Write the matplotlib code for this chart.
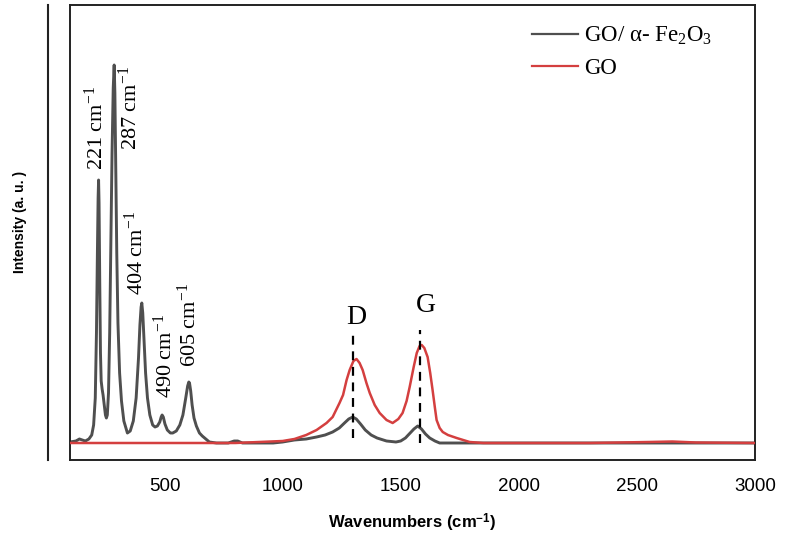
import matplotlib
matplotlib.use("Agg")
import matplotlib.pyplot as plt
from matplotlib.lines import Line2D

plt.rcParams['mathtext.fontset'] = 'custom'
plt.rcParams['mathtext.rm'] = 'Liberation Serif'
plt.rcParams['mathtext.it'] = 'Liberation Serif:italic'
plt.rcParams['mathtext.bf'] = 'Liberation Sans:bold'

# GO/alpha-Fe2O3 spectrum
gray_wn = [100, 125, 140, 152, 165, 180, 192, 200, 207, 212, 216, 219, 221,
           223, 226, 229, 232, 236, 240, 245, 250, 254, 258, 263, 268, 273,
           278, 283, 287, 290, 294, 298, 303, 310, 318, 328, 343, 355, 368,
           380, 390, 396, 401, 404, 408, 413, 420, 428, 438, 450, 460, 470,
           480, 486, 490, 495, 502, 512, 525, 535, 550, 565, 578, 590, 598,
           603, 606, 611, 617, 625, 635, 648, 660, 675, 690, 720, 770, 795,
           810, 830, 900, 960, 1000, 1050, 1100, 1144, 1180, 1212, 1240, 1262,
           1280, 1297, 1312, 1330, 1350, 1375, 1400, 1440, 1480, 1500, 1520,
           1540, 1556, 1572, 1588, 1605, 1623, 1645, 1665, 1750, 2000, 3000]
gray_int = [1, 2, 4, 3, 2, 4, 8, 18, 45, 110, 190, 245, 263,
            240, 160, 90, 62, 54, 48, 38, 28, 25, 28, 50, 110, 200,
            290, 355, 378, 350, 270, 190, 120, 70, 42, 22, 10, 12, 22,
            45, 85, 118, 136, 140, 130, 105, 70, 45, 28, 18, 16, 17,
            21, 26, 28, 26, 19, 13, 10, 10, 12, 18, 28, 45, 57,
            61, 60, 52, 38, 25, 17, 10, 7, 4, 1, 0, 0, 2,
            2, 0, 0, 0, 1, 3, 4, 6, 8, 11, 15, 20,
            24, 26, 24, 19, 13, 8, 5, 2, 1, 2, 5,
            10, 14, 17, 14, 9, 5, 2, 0, 0, 0, 0]

# GO spectrum
red_wn = [100, 500, 800, 900, 1000, 1050, 1100, 1144, 1186, 1212, 1241, 1256,
          1271, 1284, 1300, 1313, 1326, 1339, 1355, 1369, 1390, 1411, 1440,
          1466, 1490, 1508, 1525, 1538, 1555, 1568, 1580, 1589, 1600, 1614,
          1625, 1635, 1645, 1652, 1665, 1678, 1700, 1737, 1792, 1850, 2000,
          2300, 2550, 2650, 2750, 3000]
red_int = [0, 0, 0, 1, 2, 4, 8, 13, 20, 26, 40, 48,
           63, 73, 82, 84, 80, 73, 60, 50, 38, 30, 23,
           20, 24, 30, 42, 56, 76, 90, 97, 98, 95, 86,
           70, 53, 35, 23, 15, 11, 8, 5, 1, 0, 0,
           0, 1, 1.5, 0.5, 0]

peak_names = ['221', '287', '404', '490', '605']
label_pos = [(212, 273), (356, 293), (381, 148), (504, 45), (606, 76)]

band_names = ['D', 'G']
band_wn = [1297, 1580]
band_low = [5, 0]
band_high = [108, 113]
band_label_pos = [(1314, 113), (1606, 125)]

fig = plt.figure(figsize=(7.86, 5.36), dpi=100)
ax = fig.add_axes([70 / 786, 1 - 460 / 536, 685 / 786, 455 / 536])

ax.plot(gray_wn, gray_int, color='#4f4f4f', lw=2.1,
        label='GO/ α- Fe$_2$O$_3$', zorder=2)
ax.plot(red_wn, red_int, color='#d43f3f', lw=1.8, label='GO', zorder=3)

ax.vlines(band_wn, band_low, band_high, colors='black', linestyles=(0, (4, 3)),
          lw=1.6, zorder=4)

for name, (x, y) in zip(peak_names, label_pos):
    ax.text(x, y, name + r' cm$^{-1}$', rotation=90, ha='center', va='bottom',
            family='Liberation Serif', fontsize=16)
for name, (x, y) in zip(band_names, band_label_pos):
    ax.text(x, y, name, ha='center', va='bottom', family='Liberation Serif',
            fontsize=20)

ax.set_xlim(100, 3000)
ax.set_ylim(-17, 438)
ax.set_xticks([500, 1000, 1500, 2000, 2500, 3000])
ax.set_yticks([])
ax.tick_params(axis='x', length=0, pad=13, labelsize=13.5)
for lab in ax.get_xticklabels():
    lab.set_family('Liberation Sans')
for sp in ax.spines.values():
    sp.set_linewidth(1.4)
    sp.set_color('#222222')

ax.set_xlabel(r'Wavenumbers (cm$^{\mathbf{-1}}$)', family='Liberation Sans',
              fontweight='bold', fontsize=12, labelpad=12)
fig.text(20 / 786, 1 - 222 / 536, 'Intensity (a. u. )', rotation=90,
         ha='center', va='center', family='Liberation Sans',
         fontweight='bold', fontsize=10)

# extra vertical line left of the frame
fig.add_artist(Line2D([47.5 / 786, 47.5 / 786], [1 - 5 / 536, 1 - 460 / 536],
                      color='#222222', lw=1.5))

leg = ax.legend(loc='upper left', bbox_to_anchor=(0.674, 0.957), frameon=False,
                prop={'family': 'Liberation Serif', 'size': 16.5},
                handlelength=2.0, handletextpad=0.28, borderpad=0,
                borderaxespad=0, labelspacing=0.5)
for h in leg.get_lines():
    h.set_linewidth(1.6)

fig.savefig('out.png', dpi=100)
